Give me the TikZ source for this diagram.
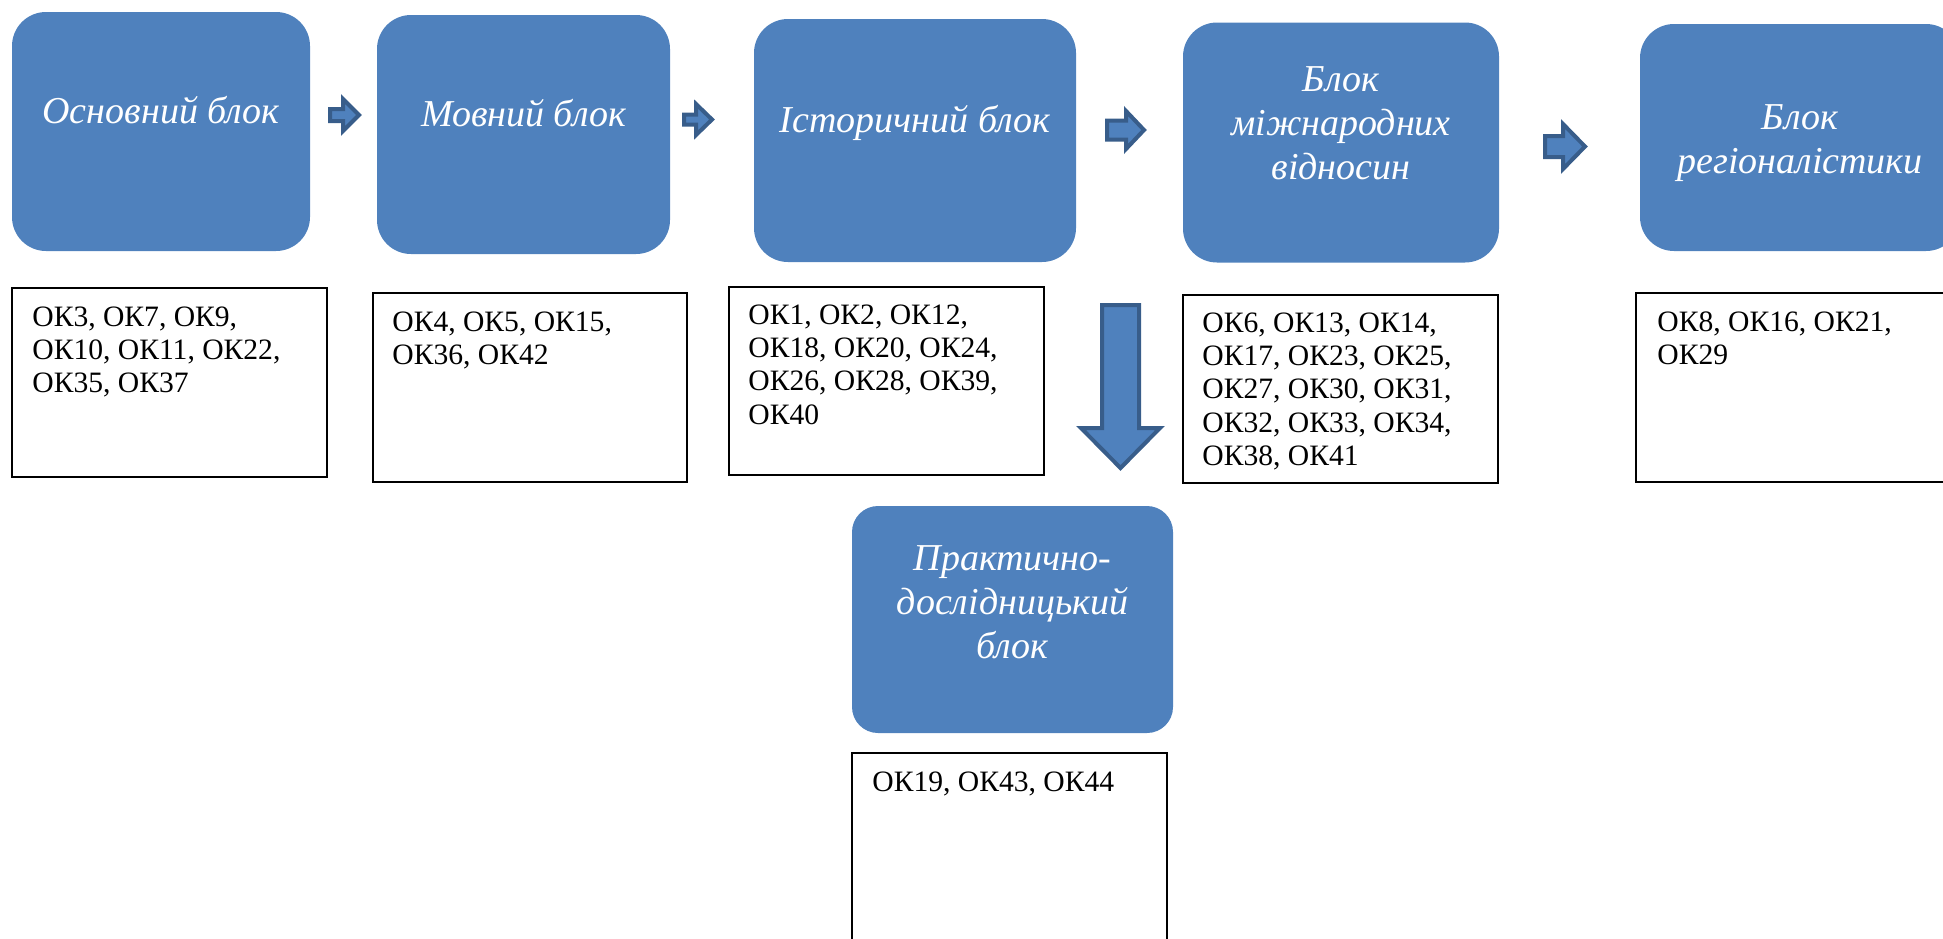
\documentclass[tikz,border=0pt]{standalone}
\usepackage{fontspec}
\setmainfont{Liberation Serif}
\usetikzlibrary{calc}
\definecolor{boxblue}{HTML}{4F81BD}
\definecolor{arrowedge}{HTML}{385D8A}
\tikzset{
  bluebox/.style={draw=none, fill=boxblue, rounded corners=17pt, inner sep=0pt},
  okbox/.style={draw=black, line width=1pt, fill=white, inner sep=0pt},
  btext/.style={text=white, align=center, inner sep=0pt, font=\fontsize{19}{22}\selectfont\itshape},
  oktext/.style={text=black, align=left, inner sep=0pt, font=\fontsize{14.8}{16.7}\selectfont},
  blockarrow/.style={fill=boxblue, draw=arrowedge, line width=2pt, line join=miter},
  pics/barrow/.style args={#1/#2/#3/#4}{code={
    \draw[blockarrow] (-#1/2,-#3/2) -- (#1/2-#4,-#3/2) -- (#1/2-#4,-#2/2) -- (#1/2,0)
      -- (#1/2-#4,#2/2) -- (#1/2-#4,#3/2) -- (-#1/2,#3/2) -- cycle;
  }}
}
\begin{document}
\begin{tikzpicture}[x=0.5pt,y=-0.5pt]
\useasboundingbox (0,0) rectangle (1943,938);
\clip (0,0) rectangle (1943,938);

% blue blocks
\node[bluebox, minimum width=149pt, minimum height=119.5pt] (b1) at (161,131.5) {};
\node[bluebox, minimum width=146.5pt, minimum height=119.5pt] (b2) at (523.5,134.5) {};
\node[bluebox, minimum width=161pt, minimum height=121.5pt] (b3) at (915,140.5) {};
\node[bluebox, minimum width=158pt, minimum height=120pt] (b4) at (1341,142.5) {};
\node[bluebox, minimum width=160pt, minimum height=113.5pt] (b5) at (1800,137.5) {};
\node[bluebox, rounded corners=13pt, minimum width=160.5pt, minimum height=113.5pt] (b6) at (1012.5,619.5) {};

% block titles (anchor = baseline of the last line)
\node[btext, anchor=base] (t1) at (161,123) {Основний блок};
\node[btext, anchor=base] (t2) at (523.5,126) {Мовний блок};
\node[btext, anchor=base] (t3) at (915,132) {Історичний блок};
\node[btext, anchor=base] (t4) at (1341,179) {Блок\\міжнародних\\відносин};
\node[btext, anchor=base] (t5) at (1800,173) {Блок\\регіоналістики};
\node[btext, anchor=base] (t6) at (1012.5,658) {Практично-\\дослідницький\\блок};

% competence boxes
\node[okbox, minimum width=157.5pt, minimum height=94.5pt] (w1) at (169.5,382.5) {};
\node[okbox, minimum width=157pt, minimum height=94.5pt] (w2) at (530,387.5) {};
\node[okbox, minimum width=157.5pt, minimum height=94pt] (w3) at (886.5,381) {};
\node[okbox, minimum width=157.5pt, minimum height=94pt] (w4) at (1340.5,389) {};
\node[okbox, minimum width=157.5pt, minimum height=94.5pt] (w5) at (1793.5,387.5) {};
\node[okbox, minimum width=157.5pt, minimum height=94pt] (w6) at (1009.5,847) {};

\node[oktext, anchor=base west] (k1) at ($(w1.north west)+(21,105.8)$) {ОК3, ОК7, ОК9,\\ОК10, ОК11, ОК22,\\ОК35, ОК37};
\node[oktext, anchor=base west] (k2) at ($(w2.north west)+(20,72.4)$) {ОК4, ОК5, ОК15,\\ОК36, ОК42};
\node[oktext, anchor=base west] (k3) at ($(w3.north west)+(20,138.2)$) {ОК1, ОК2, ОК12,\\ОК18, ОК20, ОК24,\\ОК26, ОК28, ОК39,\\ОК40};
\node[oktext, anchor=base west] (k4) at ($(w4.north west)+(20,171.6)$) {ОК6, ОК13, ОК14,\\ОК17, ОК23, ОК25,\\ОК27, ОК30, ОК31,\\ОК32, ОК33, ОК34,\\ОК38, ОК41};
\node[oktext, anchor=base west] (k5) at ($(w5.north west)+(22,72.4)$) {ОК8, ОК16, ОК21,\\ОК29};
\node[oktext, anchor=base west] (k6) at ($(w6.north west)+(21,39)$) {ОК19, ОК43, ОК44};

% block arrows
\coordinate (a1) at (344.5,115);
\coordinate (a2) at (698,119.5);
\coordinate (a3) at (1125.5,130);
\coordinate (a4) at (1565,146.5);
\coordinate (ad) at (1120.5,386.5);
\pic at (a1) {barrow={29/32/12/16}};
\pic at (a2) {barrow={28/31/10/16}};
\pic at (a3) {barrow={37/38/19/18}};
\pic at (a4) {barrow={40/45/21/22}};
\pic[rotate=-90] at (ad) {barrow={163/79/37/40}};
\end{tikzpicture}
\end{document}
